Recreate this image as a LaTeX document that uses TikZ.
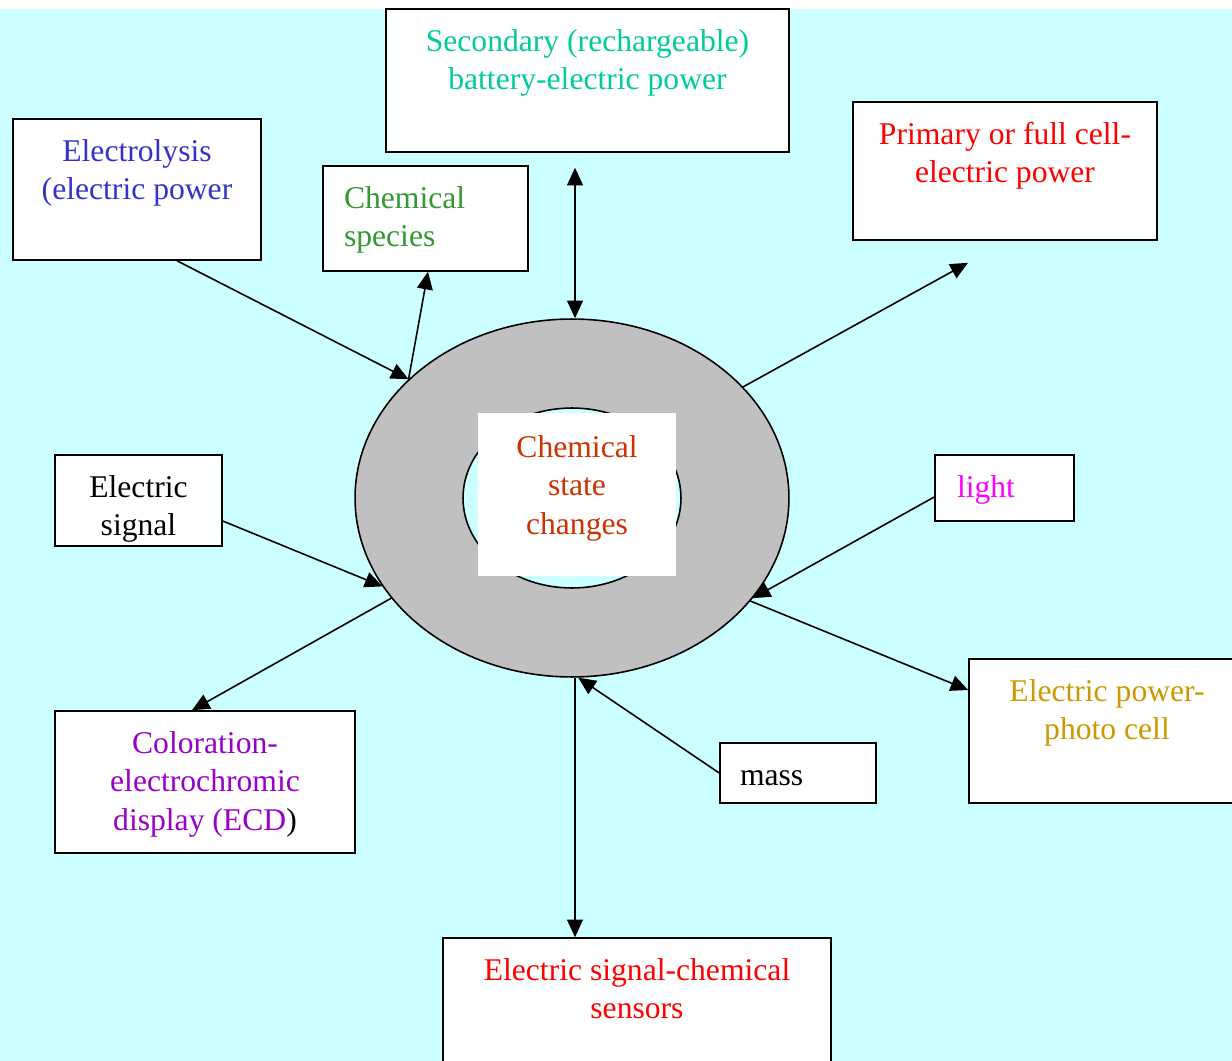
\documentclass[tikz,border=0pt]{standalone}
\usepackage{fontspec}
\setmainfont{Liberation Serif}
\usetikzlibrary{shapes.geometric, arrows.meta}

\definecolor{bgcyan}{RGB}{204,255,255}
\definecolor{ringgray}{RGB}{192,192,192}
\definecolor{secgreen}{RGB}{0,204,153}
\definecolor{lysblue}{RGB}{51,51,204}
\definecolor{specgreen}{RGB}{51,153,51}
\definecolor{ecdpurple}{RGB}{153,0,204}
\definecolor{photogold}{RGB}{204,153,0}
\definecolor{corered}{RGB}{204,51,0}
\definecolor{lightpink}{RGB}{255,0,255}
\definecolor{plainred}{RGB}{255,0,0}
\newcommand{\fs}{\fontsize{18}{22}\selectfont}

\tikzset{
  box/.style={draw, fill=white, inner sep=0pt},
  lbl/.style={anchor=north, inner sep=0pt, align=center, font=\fs},
  lbll/.style={anchor=north west, inner sep=0pt, align=left, font=\fs},
}

\begin{document}
\begin{tikzpicture}[x=0.02cm, y=-0.02cm, line width=0.9pt, >={Triangle[length=10pt,width=9pt]}]
  % Background
  \useasboundingbox (0,0) rectangle (1232,1061);
  \clip (0,0) rectangle (1232,1061);
  \fill[white] (0,0) rectangle (1232,1061);
  \fill[bgcyan] (0,9) rectangle (1232,1061);

  % Central ring
  \node[ellipse, draw, fill=ringgray, inner sep=0pt, minimum width=8.68cm, minimum height=7.16cm] (core) at (572,498) {};
  \node[ellipse, draw, fill=bgcyan, inner sep=0pt, minimum width=4.36cm, minimum height=3.6cm] (hole) at (572,498) {};
  \node[fill=white, inner sep=0pt, minimum width=3.96cm, minimum height=3.26cm] (mid) at (577,494.5) {};
  \node[lbl, text=corered] at ([yshift=-0.34cm]mid.north) {\strut Chemical\\ state\\ changes};

  % Boxes
  \node[box, minimum width=8.06cm, minimum height=2.86cm] (sec) at (587.5,80.5) {};
  \node[lbl, text=secgreen] at ([yshift=-0.3cm]sec.north) {\strut Secondary (rechargeable)\\ battery-electric power};

  \node[box, minimum width=4.96cm, minimum height=2.82cm] (lys) at (137,189.5) {};
  \node[lbl, text=lysblue] at ([yshift=-0.3cm]lys.north) {\strut Electrolysis\\ (electric power};

  \node[box, minimum width=4.10cm, minimum height=2.10cm] (spec) at (425.5,218.5) {};
  \node[lbll, text=specgreen] at ([xshift=0.42cm, yshift=-0.3cm]spec.north west) {\strut Chemical\\ species};

  \node[box, minimum width=6.08cm, minimum height=2.76cm] (prim) at (1005,171) {};
  \node[lbl, text=plainred] at ([yshift=-0.3cm]prim.north) {\strut Primary or full cell-\\ electric power};

  \node[box, minimum width=3.34cm, minimum height=1.82cm] (sig) at (138.5,500.5) {};
  \node[lbl] at ([yshift=-0.3cm]sig.north) {\strut Electric\\ signal};

  \node[box, minimum width=2.78cm, minimum height=1.32cm] (light) at (1004.5,488) {};
  \node[lbll, text=lightpink] at ([xshift=0.44cm, yshift=-0.3cm]light.north west) {\strut light};

  \node[box, minimum width=6.0cm, minimum height=2.84cm] (ecd) at (205,782) {};
  \node[lbl, text=ecdpurple] at ([yshift=-0.3cm]ecd.north) {\strut Coloration-\\ electrochromic\\ display (ECD\textcolor{black}{)}};

  \node[box, minimum width=5.52cm, minimum height=2.88cm] (photo) at (1107,731) {};
  \node[lbl, text=photogold] at ([yshift=-0.3cm]photo.north) {\strut Electric power-\\ photo cell};

  \node[box, minimum width=3.12cm, minimum height=1.2cm] (mass) at (798,773) {};
  \node[lbll] at ([xshift=0.4cm, yshift=-0.3cm]mass.north west) {\strut mass};

  \node[box, minimum width=7.76cm, minimum height=2.84cm] (sens) at (637,1009) {};
  \node[lbl, text=plainred] at ([yshift=-0.3cm]sens.north) {\strut Electric signal-chemical\\ sensors};

  % Gaps under the top boxes
  \coordinate (secgap) at ([yshift=-0.3cm]sec.south);
  \coordinate (primgap) at ([xshift=-0.74cm, yshift=-0.44cm]prim.south);
  \coordinate (coretop) at ([xshift=0.06cm]core.north);
  \coordinate (corebot) at ([xshift=0.06cm]core.south);

  % Connectors
  \draw[->] ([xshift=0.8cm]lys.south) -- (core.144);
  \draw[->] (core.144) -- ([xshift=0.05cm]spec.south);
  \draw[<->] (coretop) -- (coretop |- secgap);
  \draw[->] (core.33) -- (primgap);
  \draw[->] ([yshift=-0.41cm]sig.east) -- (core.205);
  \draw[->] (core.209) -- ([xshift=-0.26cm]ecd.north);
  \draw[->] ([yshift=-0.18cm]light.west) -- (core.331);
  \draw[->] (core.330) -- ([yshift=0.82cm]photo.west);
  \draw[->] (mass.west) -- (core.-88);
  \draw[->] (corebot) -- (corebot |- sens.north);
\end{tikzpicture}
\end{document}
